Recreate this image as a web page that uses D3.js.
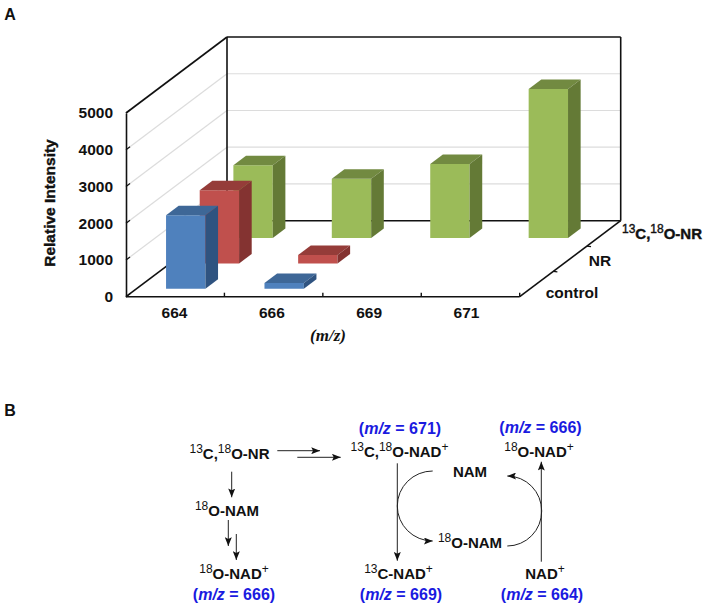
<!DOCTYPE html>
<html>
<head>
<meta charset="utf-8">
<script src="https://cdn.jsdelivr.net/npm/d3@7"></script>
<style>
html, body { margin: 0; padding: 0; background: #fff; }
text { font-family: "Liberation Sans", sans-serif; font-weight: bold; fill: #111; }
</style>
</head>
<body>
<div id="chart"></div>
<script>
var categories = ["664", "666", "669", "671"];
var rows = ["control", "NR", "13C,18O-NR"];
var yTicks = [0, 1000, 2000, 3000, 4000, 5000];

// values per m/z, null where no bar is drawn
var controlValues = [2000, 160, null, null];
var nrValues = [1990, 230, null, null];
var labelledValues = [1980, 1615, 2015, 4060];

var rowValues = [controlValues, nrValues, labelledValues];
var rowColors = [
    { front: "#4f81bd", top: "#3e6797", side: "#2f5380" },
    { front: "#c0504d", top: "#953c39", side: "#843331" },
    { front: "#9bbb59", top: "#728a41", side: "#647a36" }
];

var width = 706, height = 609;
var x0 = 126, xW = 393.7;
var depthX = 101, depthY = 76;

var svg = d3.select("#chart").append("svg")
    .attr("width", width).attr("height", height);

var x = d3.scaleBand().domain(categories).range([0, xW]).paddingInner(0.6).paddingOuter(0.3);
var z = d3.scaleBand().domain(d3.range(rows.length)).range([0, 1]).paddingInner(0.625).paddingOuter(0.3125);
var y = d3.scaleLinear().domain([0, 5000]).range([296.7, 113]);

// 2d position of a point: px along x axis, value, depth 0..1
function project(px, val, d) {
    return [x0 + px + d * depthX, y(val) - d * depthY];
}

function line(g, a, b, color, w) {
    g.append("line")
        .attr("x1", a[0]).attr("y1", a[1])
        .attr("x2", b[0]).attr("y2", b[1])
        .attr("stroke", color).attr("stroke-width", w);
}

function poly(pts, color) {
    svg.append("polygon")
        .attr("points", pts.map(function(p) { return p.join(","); }).join(" "))
        .attr("fill", color);
}

// walls
var walls = svg.append("g");
yTicks.slice(1, -1).forEach(function(t) {
    line(walls, project(0, t, 0), project(0, t, 1), "#dcdcdc", 1.2);
    line(walls, project(0, t, 1), project(xW, t, 1), "#dcdcdc", 1.2);
});
line(walls, project(0, 5000, 0), project(0, 5000, 1), "#111", 1.6);
line(walls, project(0, 5000, 1), project(xW, 5000, 1), "#111", 1.6);
line(walls, project(0, 5000, 1), project(0, 0, 1), "#111", 1.6);
line(walls, project(xW, 5000, 1), project(xW, 0, 1), "#111", 1.6);
line(walls, project(0, 0, 1), project(xW, 0, 1), "#111", 1.6);
line(walls, project(0, 0, 0), project(0, 0, 1), "#111", 1.6);
line(walls, project(xW, 0, 0), project(xW, 0, 1), "#111", 1.6);

// depth axis ticks
[1 / 3, 2 / 3].forEach(function(d) {
    var p = project(xW, 0, d);
    line(walls, p, [p[0] + 4, p[1] + 0.5], "#111", 1.2);
});

// bars, back row first
d3.range(rows.length).reverse().forEach(function(r) {
    var c = rowColors[r];
    var d1 = z(r), d2 = z(r) + z.bandwidth();
    categories.forEach(function(cat, i) {
        var v = rowValues[r][i];
        if (v === null) return;
        var a = x(cat), b = x(cat) + x.bandwidth();
        poly([project(a, v, d1), project(b, v, d1), project(b, 0, d1), project(a, 0, d1)], c.front);
        poly([project(a, v, d1), project(b, v, d1), project(b, v, d2), project(a, v, d2)], c.top);
        poly([project(b, v, d1), project(b, v, d2), project(b, 0, d2), project(b, 0, d1)], c.side);
    });
});

// front axes
var yAxis = d3.axisLeft(y).tickValues(yTicks).tickSize(0).tickPadding(13).tickFormat(d3.format("d"));
var yG = svg.append("g").attr("transform", "translate(" + x0 + ",0)").call(yAxis);
yG.select(".domain").attr("stroke", "#111").attr("stroke-width", 1.6);
yG.selectAll("text").style("font-size", "15.5px");
yTicks.forEach(function(t) {
    line(svg, [x0, y(t)], [x0 + 4, y(t) - 3], "#111", 1.2);
});

var xLabel = d3.scalePoint().domain(categories).range([174, 466]);
var xAxis = d3.axisBottom(xLabel).tickSize(0).tickPadding(10);
var xG = svg.append("g").attr("transform", "translate(0," + y(0) + ")").call(xAxis);
xG.select(".domain").remove();
xG.selectAll("text").style("font-size", "15.5px");
line(svg, [x0, y(0)], [x0 + xW, y(0)], "#111", 1.6);
d3.range(1, categories.length + 1).forEach(function(i) {
    var px = x0 + i * x.step();
    line(svg, [px, y(0)], [px, y(0) - 4], "#111", 1.4);
});

// text made of [string, kind] pieces, kind "s" = superscript, "i" = italic
function label(cx, by, parts, opt) {
    opt = opt || {};
    var t = svg.append("text")
        .attr("x", cx).attr("y", by)
        .attr("text-anchor", "middle")
        .style("font-size", (opt.size || 15) + "px")
        .style("fill", opt.color || "#111");
    var shift = 0;
    parts.forEach(function(p) {
        var s = t.append("tspan").text(p[0]);
        if (p[1] === "s") {
            s.attr("dy", -6 - shift).style("font-size", "12px").style("font-weight", "normal");
            shift = -6;
        } else {
            if (shift !== 0) { s.attr("dy", -shift); shift = 0; }
            if (p[1] === "i") s.style("font-style", "italic");
        }
    });
    return t;
}

function massLabel(cx, by, mass) {
    label(cx, by, [["("], ["m/z", "i"], [" = " + mass + ")"]], { color: "#1a1ae0", size: 16 });
}

label(10, 20, [["A"]], { size: 16 });
label(10, 416, [["B"]], { size: 16 });

var yTitle = svg.append("text")
    .attr("transform", "translate(55,203) rotate(-90)")
    .attr("text-anchor", "middle")
    .style("font-size", "15.5px")
    .style("stroke", "#111").style("stroke-width", 0.4)
    .text("Relative Intensity");

label(328, 341, [["("], ["m/z", "i"], [")"]], { size: 17 }).style("font-style", "italic").style("font-family", "Liberation Serif");

label(572, 298, [[rows[0]]], { size: 15.5 });
label(600, 266, [[rows[1]]], { size: 15.5 });
label(662, 239, [["13", "s"], ["C,"], ["18", "s"], ["O-NR"]], { size: 15 }).style("stroke", "#111").style("stroke-width", 0.4);

// scheme
label(229.5, 459, [["13", "s"], ["C,"], ["18", "s"], ["O-NR"]]);
label(227, 516, [["18", "s"], ["O-NAM"]]);
label(234, 579, [["18", "s"], ["O-NAD"], ["+", "s"]]);
massLabel(234, 600, 666);

massLabel(400, 434, 671);
label(399.5, 457, [["13", "s"], ["C,"], ["18", "s"], ["O-NAD"], ["+", "s"]]);
massLabel(540.5, 433, 666);
label(539, 457, [["18", "s"], ["O-NAD"], ["+", "s"]]);
label(470, 476.7, [["NAM"]]);
label(470, 547.7, [["18", "s"], ["O-NAM"]]);
label(398.5, 579, [["13", "s"], ["C-NAD"], ["+", "s"]]);
massLabel(401, 600, 669);
label(545, 579, [["NAD"], ["+", "s"]]);
massLabel(542, 600, 664);

svg.append("defs").append("marker")
    .attr("id", "head")
    .attr("viewBox", "0 0 10 8")
    .attr("refX", 10).attr("refY", 4)
    .attr("markerUnits", "userSpaceOnUse")
    .attr("markerWidth", 9).attr("markerHeight", 7)
    .attr("orient", "auto")
    .append("path").attr("d", "M0,0L10,4L0,8L2,4Z").attr("fill", "#111");

function arrow(d) {
    svg.append("path").attr("d", d)
        .attr("fill", "none").attr("stroke", "#222").attr("stroke-width", 1)
        .attr("marker-end", "url(#head)");
}

arrow("M277.3,450.7L320,450.7");
arrow("M297.3,457.3L340.7,457.3");
arrow("M231.7,471.7L231.7,497.3");
arrow("M228.3,520L228.3,546");
arrow("M236.3,534L236.3,560");
arrow("M397.3,463.3L397.3,560.7");
arrow("M541.3,561.7L541.3,461.7");
arrow("M432.7,471A35.4,35 0 0 0 432.7,541");
arrow("M507.3,546A34.4,35 0 0 0 507.3,476");
</script>
</body>
</html>
